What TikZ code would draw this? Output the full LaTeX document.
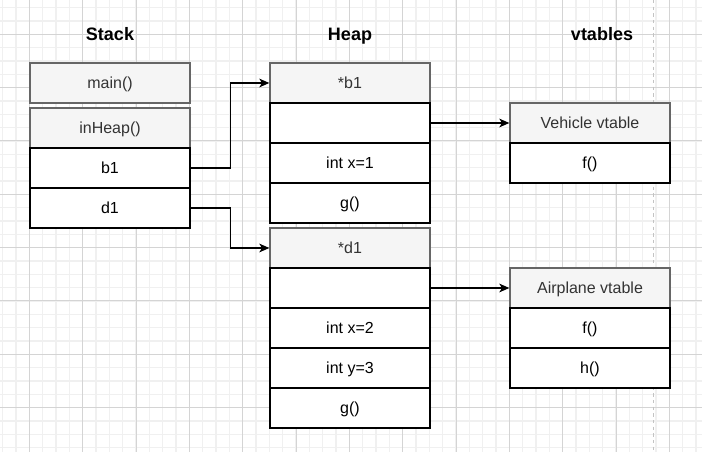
\documentclass[tikz,border=0pt]{standalone}
\usepackage{fontspec}
\setmainfont{Liberation Sans}
\usetikzlibrary{arrows.meta}
\definecolor{gridminor}{RGB}{240,240,240}
\definecolor{gridmajor}{RGB}{212,212,212}
\definecolor{dashgray}{RGB}{195,195,195}
\definecolor{hdrfill}{RGB}{245,245,245}
\definecolor{hdrdraw}{RGB}{102,102,102}
\definecolor{hdrtext}{RGB}{51,51,51}
\tikzset{
  minorline/.style={gridminor, line width=1.1pt},
  majorline/.style={gridmajor, line width=0.75pt},
  divider/.style={dashgray, line width=1pt, dash pattern=on 2.5pt off 2.5pt},
  cellbase/.style={minimum width=120pt, minimum height=30pt, inner sep=0pt,
    line width=1pt, font=\fontsize{12}{14}\selectfont, text height=8.6pt, text depth=0pt},
  hdr/.style={cellbase, draw=hdrdraw, fill=hdrfill, text=hdrtext},
  cell/.style={cellbase, draw=black, fill=white, text=black},
  title/.style={font=\bfseries\fontsize{13.5}{16}\selectfont, inner sep=0pt, text height=9.7pt, text depth=0pt},
  arr/.style={line width=1pt, black, -{Stealth[length=7.5pt, width=6.5pt, inset=2pt]}}
}
\begin{document}
\begin{tikzpicture}[x=0.75pt, y=-0.75pt]
\useasboundingbox (0,0) rectangle (702,452);
\fill[white] (0,0) rectangle (702,452);
% grid
\foreach \i in {0,...,52} {
  \draw[minorline] ({2.667+13.333*\i},0) -- ({2.667+13.333*\i},452);
}
\foreach \i in {-1,...,34} {
  \draw[minorline] (0,{7.667+13.333*\i}) -- (702,{7.667+13.333*\i});
}
\foreach \i in {0,...,13} {
  \draw[majorline] ({29.333+53.333*\i},0) -- ({29.333+53.333*\i},452);
}
\foreach \i in {0,...,8} {
  \draw[majorline] (0,{34.333+53.333*\i}) -- (702,{34.333+53.333*\i});
}
% dashed divider
\coordinate (dtop) at (653.3,0);
\coordinate (dbot) at (653.3,452);
\draw[divider] (dtop) -- (dbot);

% titles
\node[title] (tstack) at (110,34) {Stack};
\node[title] (theap) at (350,34) {Heap};
\node[title] (tvt) at (602,34) {vtables};

% stack
\node[hdr] (main) at (110,83) {main()};
\node[hdr] (inheap) at (110,128) {inHeap()};
\node[cell] (b1) at (110,168) {b1};
\node[cell] (d1) at (110,208) {d1};

% heap
\node[hdr] (pb1) at (350,83) {*b1};
\node[cell] (hb1v) at (350,123) {};
\node[cell] (hb1x) at (350,163) {int x=1};
\node[cell] (hb1g) at (350,203) {g()};
\node[hdr] (pd1) at (350,248) {*d1};
\node[cell] (hd1v) at (350,288) {};
\node[cell] (hd1x) at (350,328) {int x=2};
\node[cell] (hd1y) at (350,368) {int y=3};
\node[cell] (hd1g) at (350,408) {g()};

% vtables
\node[hdr] (vveh) at (590,123) {Vehicle vtable};
\node[cell] (vvf) at (590,163) {f()};
\node[hdr] (vair) at (590,288) {Airplane vtable};
\node[cell] (vaf) at (590,328) {f()};
\node[cell] (vah) at (590,368) {h()};

% connectors
\draw[arr] (b1.east) -- ++(40,0) |- (pb1.west);
\draw[arr] (d1.east) -- ++(40,0) |- (pd1.west);
\draw[arr] (hb1v.east) -- (vveh.west);
\draw[arr] (hd1v.east) -- (vair.west);
\end{tikzpicture}
\end{document}
